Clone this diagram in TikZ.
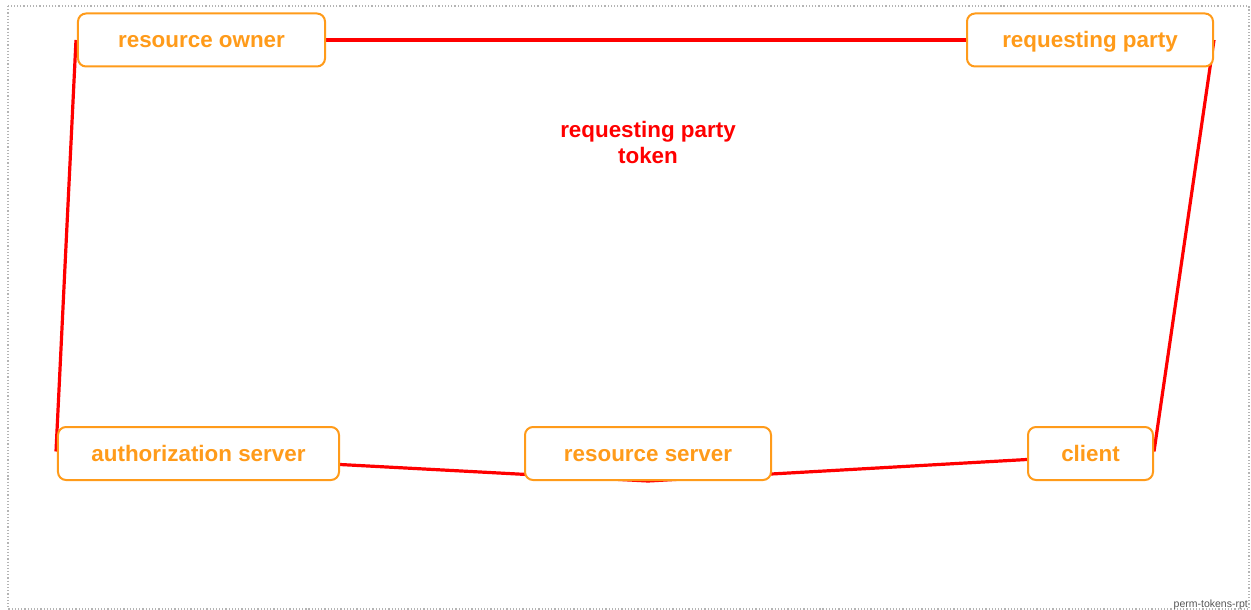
\documentclass[tikz,border=0pt]{standalone}
\usepackage{fontspec}
\setmainfont{Liberation Sans}
\usetikzlibrary{calc,backgrounds}
\definecolor{boxorange}{HTML}{FF9B1A}
\definecolor{linered}{HTML}{FF0000}
\definecolor{framegray}{HTML}{B4B4B4}
\definecolor{notegray}{HTML}{555555}
\tikzset{
  actor/.style={draw=boxorange, line width=2bp, fill=white, rounded corners=8bp,
    minimum height=53bp, inner sep=0pt, text=boxorange, text height=16bp, text depth=0bp,
    font=\bfseries\fontsize{22.4bp}{26bp}\selectfont},
  link/.style={draw=linered, line width=3.2bp},
  tokenlabel/.style={text=linered, align=center, font=\bfseries\fontsize{22.4bp}{26bp}\selectfont},
  frame/.style={draw=framegray, line width=1.2bp, dotted}
}
\begin{document}
\begin{tikzpicture}[x=1bp,y=-1bp]
\useasboundingbox (0,0) rectangle (1251,610);
\draw[frame] (8,6) rectangle (1249,609);
\node[actor, minimum width=247bp] (ro) at (201.5,40) {resource owner};
\node[actor, minimum width=246bp] (rp) at (1090,40) {requesting party};
\node[actor, minimum width=281bp] (auth) at (198.5,453.5) {authorization server};
\node[actor, minimum width=246bp] (rs) at (648,453.5) {resource server};
\node[actor, minimum width=125bp] (client) at (1090.5,453.5) {client};
\node[tokenlabel] (rpt) at (648,142) {requesting party\\token};
\node[anchor=base east, inner sep=0pt, text=notegray, font=\fontsize{10.5bp}{12bp}\selectfont] (tag) at (1248,607) {perm-tokens-rpt};
\begin{pgfonlayer}{background}
\draw[link] (ro.east) -- (rp.west);
\draw[link] ($(ro.west)+(-1,0)$) -- ($(auth.west)+(-1,-2)$);
\draw[link] (rp.east) -- ($(client.east)+(0,-2)$);
\draw[link] ($(auth.east)+(0,11)$) -- (rs.south) -- ($(client.west)+(0,6)$);
\end{pgfonlayer}
\end{tikzpicture}
\end{document}
